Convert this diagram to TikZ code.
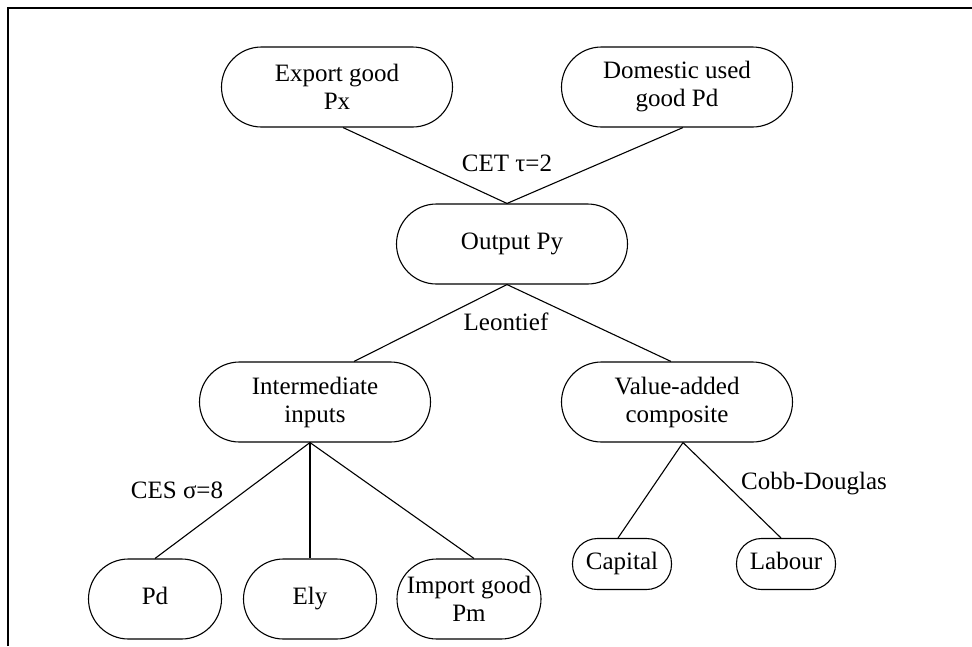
\documentclass[tikz,border=0pt]{standalone}
\usepackage{fontspec}
\setmainfont{Liberation Serif}
\usetikzlibrary{calc}
\tikzset{
    every node/.style={
        font=\fontsize{25}{28}\selectfont,
    },
    nest/.style={
        draw=black,
        line width=1.1pt,
        rounded corners=40pt,
        minimum width=231pt,
        minimum height=80pt,
        inner sep=0pt,
        align=center,
    },
    oneline/.style={
        text height=17pt,
        text depth=6pt,
    },
    leaf/.style={
        nest,
        oneline,
        minimum width=133pt,
    },
    factor/.style={
        nest,
        oneline,
        rounded corners=25pt,
        minimum width=99pt,
        minimum height=51pt,
    },
    link/.style={
        line width=1.1pt,
    },
    elast/.style={
        oneline,
        inner sep=0pt,
    },
}

\begin{document}
\begin{tikzpicture}[x=1pt,y=-1pt]
    \useasboundingbox (0,0) rectangle (972,646);
    \draw[line width=2pt] (8,646) -- (8,8) -- (972,8);

    \node[nest] (export) at (337,87) {Export good\\Px};
    \node[nest] (domestic) at (677,87) {Domestic used\\good Pd};
    \node[nest,oneline] (output) at (512,244) {Output Py};

    \node[nest] (inter) at (315,402) {Intermediate\\inputs};
    \node[nest] (va) at (677,402) {Value-added\\composite};

    \node[leaf] (pd) at (155,599) {Pd};
    \node[leaf] (ely) at (310,599) {Ely};
    \node[nest,minimum width=144pt] (imp) at (469,599) {Import good\\Pm};
    \node[factor] (cap) at (622,564) {Capital};
    \node[factor] (lab) at (786,564) {Labour};

    \draw[link] ([xshift=6pt]export.south) -- ([xshift=-5pt]output.north);
    \draw[link] ([xshift=6pt]domestic.south) -- ([xshift=-5pt]output.north);

    \draw[link] ([xshift=-5pt]output.south) -- ([xshift=39pt]inter.north);
    \draw[link] ([xshift=-5pt]output.south) -- ([xshift=-6pt]va.north);

    \draw[link] ([xshift=-5pt]inter.south) -- (pd.north);
    \draw[link] ([xshift=-5pt]inter.south) -- (ely.north);
    \draw[link] ([xshift=-5pt]inter.south) -- ([xshift=5pt]imp.north);

    \draw[link] ([xshift=6pt]va.south) -- ([xshift=-4pt]cap.north);
    \draw[link] ([xshift=6pt]va.south) -- ([xshift=-5pt]lab.north);

    \node[elast] (cet) at (507,166) {CET τ=2};
    \node[elast] (leon) at (506,325) {Leontief};
    \node[elast] (ces) at (177,493) {CES σ=8};
    \node[elast] (cobb) at (814,484) {Cobb-Douglas};
\end{tikzpicture}
\end{document}
